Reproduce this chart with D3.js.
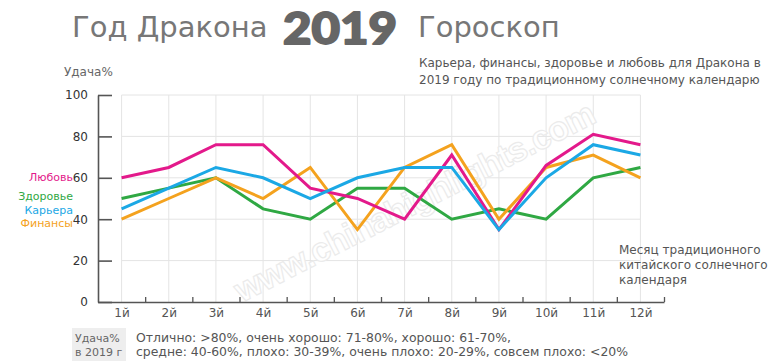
<!DOCTYPE html>
<html>
<head>
<meta charset="utf-8">
<script src="https://cdn.jsdelivr.net/npm/d3@7"></script>
<style>
  body { margin: 0; background: #fff; }
  svg { display: block; font-family: "DejaVu Sans", Verdana, sans-serif; }
</style>
</head>
<body>
<script>
const w = 768;
const h = 362;

// Data
const months = ["1й","2й","3й","4й","5й","6й","7й","8й","9й","10й","11й","12й"];
const love    = [60, 65, 76, 76, 55, 50, 40, 71, 35, 66, 81, 76];
const career  = [45, 55, 65, 60, 50, 60, 65, 65, 35, 60, 76, 71];
const health  = [50, 55, 60, 45, 40, 55, 55, 40, 45, 40, 60, 65];
const finance = [40, 50, 60, 50, 65, 35, 65, 76, 40, 65, 71, 60];
const yTicks = [0, 20, 40, 60, 80, 100];

const seriesNames  = ["Здоровье", "Финансы", "Любовь", "Карьера"];
const seriesValues = [health, finance, love, career];
const seriesColors = ["#2fa843", "#f4a21e", "#e3198b", "#1ba8e5"];

const svg = d3.select("body").append("svg")
  .attr("width", w)
  .attr("height", h);

// Title
svg.append("text").attr("x", 72).attr("y", 37)
  .attr("font-size", 29).attr("fill", "#777")
  .text("Год Дракона");
svg.append("text").attr("x", 283).attr("y", 44)
  .attr("font-family", "Lato, Roboto, sans-serif")
  .attr("font-weight", 900).attr("font-size", 43).attr("fill", "#666")
  .attr("stroke", "#666").attr("stroke-width", 1.8).attr("stroke-linejoin", "round")
  .attr("textLength", 114).attr("lengthAdjust", "spacingAndGlyphs")
  .text("2019");
svg.append("text").attr("x", 418).attr("y", 37)
  .attr("font-size", 29).attr("fill", "#777")
  .text("Гороскоп");

// Subtitle on the right
svg.append("text").attr("x", 419).attr("y", 67)
  .attr("font-size", 12).attr("fill", "#555")
  .text("Карьера, финансы, здоровье и любовь для Дракона в");
svg.append("text").attr("x", 419).attr("y", 84)
  .attr("font-size", 12).attr("fill", "#555")
  .text("2019 году по традиционному солнечному календарю");

// Scales: months sit at 1..12, axis runs from 0.5 to 12.5
const x = d3.scaleLinear().domain([0.5, 12.5]).range([98, 664]);
const y = d3.scaleLinear().domain([0, 100]).range([302, 95]);

// Grid
const grid = svg.append("g").attr("stroke", "#e4e4e4").attr("stroke-width", 1);
grid.selectAll("line.h")
  .data(yTicks.filter(d => d > 0))
  .enter().append("line")
  .attr("x1", x(1)).attr("x2", x(12))
  .attr("y1", d => y(d)).attr("y2", d => y(d));
grid.selectAll("line.v")
  .data(months)
  .enter().append("line")
  .attr("x1", (d, i) => x(i + 1)).attr("x2", (d, i) => x(i + 1))
  .attr("y1", y(0)).attr("y2", y(100));

// Watermark
svg.append("text")
  .attr("transform", `translate(420,212) rotate(-27)`)
  .attr("text-anchor", "middle")
  .attr("font-family", "Arial, 'Liberation Sans', sans-serif")
  .attr("font-size", 34).attr("font-weight", "bold")
  .attr("fill", "#fff").attr("stroke", "#ebebeb").attr("stroke-width", 1.2)
  .attr("textLength", 400)
  .text("www.chinahighlights.com");

// Y axis with inward ticks
const yAxis = svg.append("g")
  .attr("transform", `translate(${x(0.5)},0)`)
  .call(d3.axisLeft(y).tickValues(yTicks).tickSizeInner(-14).tickSizeOuter(0).tickPadding(10));
yAxis.select(".domain").attr("stroke", "#555").attr("stroke-width", 1.6);
yAxis.selectAll(".tick line").attr("stroke", "#555").attr("stroke-width", 1.6);
yAxis.selectAll(".tick text").attr("font-size", 12).attr("fill", "#333")
  .attr("font-family", "'DejaVu Sans', Verdana, sans-serif");

// X axis: line with small ticks between months
const xAxis = svg.append("g")
  .attr("transform", `translate(0,${y(0)})`)
  .call(d3.axisBottom(x).tickValues(d3.range(1.5, 13, 1)).tickSizeInner(-5).tickSizeOuter(0).tickFormat(""));
xAxis.select(".domain").attr("stroke", "#555").attr("stroke-width", 1.6);
xAxis.selectAll(".tick line").attr("stroke", "#555").attr("stroke-width", 1.3);

const xLabels = svg.append("g")
  .attr("transform", `translate(0,${y(0)})`)
  .call(d3.axisBottom(x).tickValues(d3.range(1, 13)).tickSize(0).tickPadding(6)
    .tickFormat(d => months[d - 1]));
xLabels.select(".domain").remove();
xLabels.selectAll(".tick text").attr("font-size", 12).attr("fill", "#555")
  .attr("font-family", "'DejaVu Sans', Verdana, sans-serif");

// Y label
svg.append("text").attr("x", 64).attr("y", 76)
  .attr("font-size", 12).attr("fill", "#666")
  .text("Удача%");

// Lines
const line = d3.line()
  .x((d, i) => x(i + 1))
  .y(d => y(d));
svg.selectAll("path.series")
  .data(seriesValues)
  .enter().append("path")
  .attr("class", "series")
  .attr("fill", "none")
  .attr("stroke", (d, i) => seriesColors[i])
  .attr("stroke-width", 3)
  .attr("stroke-linejoin", "miter")
  .attr("d", line);

// Legend at the left
const legendItems = [
  {name: "Любовь",   color: "#e3198b", y: 181},
  {name: "Здоровье", color: "#2fa843", y: 200},
  {name: "Карьера",  color: "#1ba8e5", y: 214},
  {name: "Финансы",  color: "#f4a21e", y: 227}
];
svg.selectAll("text.legend")
  .data(legendItems)
  .enter().append("text")
  .attr("class", "legend")
  .attr("x", 73).attr("y", d => d.y)
  .attr("text-anchor", "end")
  .attr("font-size", 11)
  .attr("fill", d => d.color)
  .text(d => d.name);

// X axis title on the right
const xTitle = ["Месяц традиционного", "китайского солнечного", "календаря"];
svg.selectAll("text.xtitle")
  .data(xTitle)
  .enter().append("text")
  .attr("class", "xtitle")
  .attr("x", 619).attr("y", (d, i) => 254 + i * 15)
  .attr("font-size", 12).attr("fill", "#555")
  .text(d => d);

// Bottom note
svg.append("rect").attr("x", 72).attr("y", 328).attr("width", 54).attr("height", 33)
  .attr("fill", "#eee");
svg.append("text").attr("x", 75).attr("y", 342)
  .attr("font-size", 11).attr("fill", "#666").text("Удача%");
svg.append("text").attr("x", 75).attr("y", 356)
  .attr("font-size", 11).attr("fill", "#666").text("в 2019 г");
svg.append("text").attr("x", 136).attr("y", 342)
  .attr("font-size", 12).attr("fill", "#555")
  .attr("textLength", 375).attr("lengthAdjust", "spacingAndGlyphs")
  .text("Отлично: >80%, очень хорошо: 71-80%, хорошо: 61-70%,");
svg.append("text").attr("x", 136).attr("y", 356)
  .attr("font-size", 12).attr("fill", "#555")
  .attr("textLength", 492).attr("lengthAdjust", "spacingAndGlyphs")
  .text("средне: 40-60%, плохо: 30-39%, очень плохо: 20-29%, совсем плохо: <20%");
</script>
</body>
</html>
